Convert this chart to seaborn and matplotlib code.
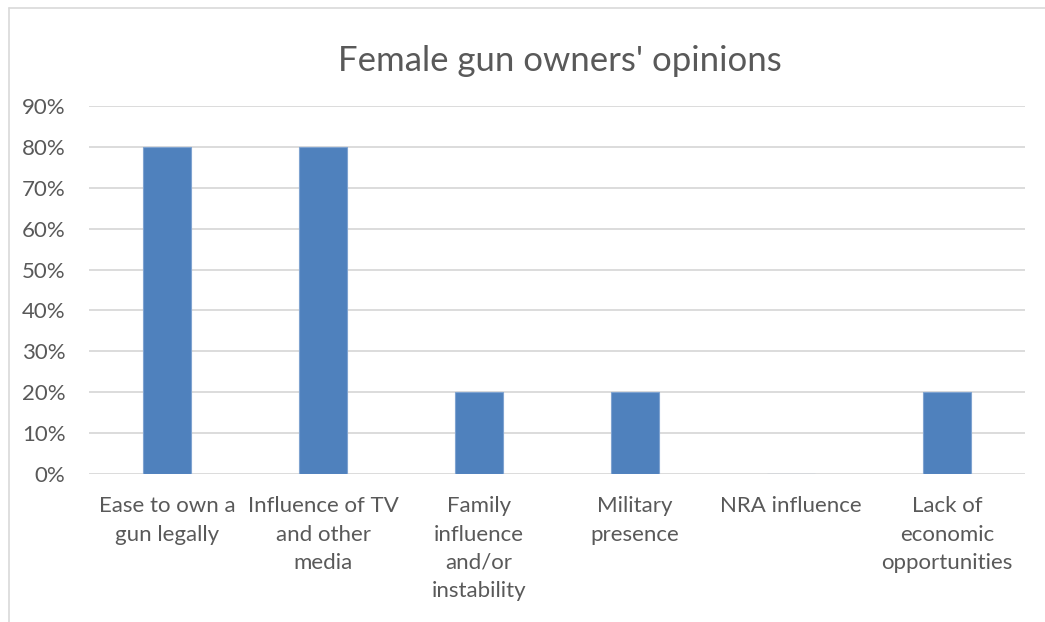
import matplotlib
matplotlib.use("Agg")
import matplotlib.pyplot as plt
from matplotlib.lines import Line2D
from matplotlib.ticker import PercentFormatter
import seaborn as sns
import pandas as pd

# Survey responses
categories = [
    "Ease to own a\ngun legally",
    "Influence of TV\nand other\nmedia",
    "Family\ninfluence\nand/or\ninstability",
    "Military\npresence",
    "NRA influence",
    "Lack of\neconomic\nopportunities",
]
shares = [0.80, 0.80, 0.20, 0.20, 0.0, 0.20]
y_ticks = [0.0, 0.1, 0.2, 0.3, 0.4, 0.5, 0.6, 0.7, 0.8, 0.9]
title = "Female gun owners' opinions"

sns.set_theme(style="white")
plt.rcParams["font.family"] = ["Lato", "DejaVu Sans"]

W, H = 1045, 622
fig = plt.figure(figsize=(W / 100, H / 100), dpi=100)
fig.patch.set_facecolor("white")

ax = fig.add_axes([89 / W, 1 - 474 / H, 936 / W, 368 / H])
df = pd.DataFrame({"category": categories, "share": shares})
sns.barplot(data=df, x="category", y="share", color="#4F81BD", saturation=1,
            width=0.31, edgecolor="#7FA3D0", linewidth=0.8, ax=ax, zorder=3)

ax.set_ylim(0, 0.9)
ax.set_yticks(y_ticks)
ax.yaxis.set_major_formatter(PercentFormatter(1.0, decimals=0))
ax.grid(axis="y", color="#D9D9D9", linewidth=1.3, zorder=0)
ax.set_xlabel("")
ax.set_ylabel("")
for s in ax.spines.values():
    s.set_visible(False)
ax.tick_params(axis="both", length=0, colors="#595959", labelsize=16)
ax.tick_params(axis="y", pad=17)
ax.tick_params(axis="x", pad=16)
for lbl in ax.get_xticklabels():
    lbl.set_linespacing(1.52)
    lbl.set_verticalalignment("top")

fig.text(560 / W, 1 - 61 / H, title, ha="center", va="center",
         fontsize=25, color="#595959")

# chart frame
fig.add_artist(Line2D([8.5 / W, 8.5 / W], [0, 1 - 7.5 / H],
                      transform=fig.transFigure, color="#D9D9D9", linewidth=1.2))
fig.add_artist(Line2D([8.5 / W, 1], [1 - 7.5 / H, 1 - 7.5 / H],
                      transform=fig.transFigure, color="#D9D9D9", linewidth=1.2))

fig.savefig("out.png", dpi=100, facecolor="white")
